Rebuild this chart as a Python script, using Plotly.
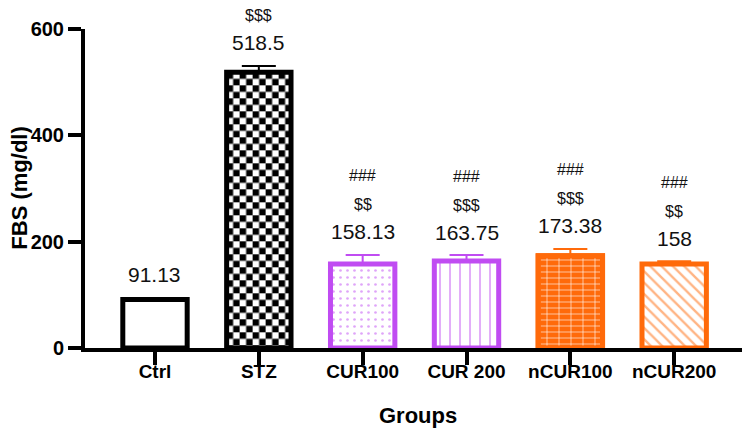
import base64
import plotly.graph_objects as go

groups = ["Ctrl", "STZ", "CUR100", "CUR 200", "nCUR100", "nCUR200"]
means = [91.13, 518.5, 158.13, 163.75, 173.38, 158]
errors = [3, 12, 17, 11, 13, 5]
value_labels = ["91.13", "518.5", "158.13", "163.75", "173.38", "158"]
dollar_marks = ["", "$$$", "$$", "$$$", "$$$", "$$"]
hash_marks = ["", "", "###", "###", "###", "###"]
y_ticks = [0, 200, 400, 600]

BLACK = "#000000"
PURPLE = "#C04CF2"
ORANGE = "#FF6A0A"
line_colors = [BLACK, BLACK, PURPLE, PURPLE, ORANGE, ORANGE]
patterns = [
    dict(shape="", bgcolor="white"),
    None,  # checkerboard drawn as a texture image under the bar
    dict(shape=".", bgcolor="white", fgcolor=PURPLE, size=7, solidity=0.12),
    dict(shape="|", bgcolor="white", fgcolor=PURPLE, size=10, solidity=0.18),
    dict(shape="-", bgcolor=ORANGE, fgcolor="white", size=6, solidity=0.2),
    dict(shape="\\", bgcolor="white", fgcolor=ORANGE, size=8, solidity=0.3),
]

FONT = "Arial, Liberation Sans, sans-serif"
BAR_W = 0.62
W, H = 750, 436
MARGIN = dict(l=77, r=8, t=21, b=96)
X_RANGE = [-0.674, 5.73]
Y_RANGE = [0, 600]

fig = go.Figure()
for i, g in enumerate(groups):
    if patterns[i] is None:
        marker = dict(color="rgba(0,0,0,0)", line=dict(color=line_colors[i], width=5))
    else:
        marker = dict(color="white", line=dict(color=line_colors[i], width=5),
                      pattern=patterns[i])
    fig.add_trace(go.Bar(
        x=[g], y=[means[i]], width=BAR_W, marker=marker,
        error_y=dict(type="data", symmetric=False, array=[errors[i]], arrayminus=[0],
                     color=line_colors[i], thickness=2, width=17),
        showlegend=False, cliponaxis=False,
    ))
    if g == "nCUR100":
        # vertical joints of the brick pattern
        fig.add_trace(go.Bar(
            x=[g], y=[means[i]], width=BAR_W,
            marker=dict(color="rgba(0,0,0,0)", line=dict(color=ORANGE, width=5),
                        pattern=dict(shape="|", bgcolor="rgba(0,0,0,0)", fgcolor="white",
                                     size=12, solidity=0.1)),
            showlegend=False, cliponaxis=False,
        ))

# checkerboard texture for the STZ bar
idx = groups.index("STZ")
px_per_x = (W - MARGIN["l"] - MARGIN["r"]) / (X_RANGE[1] - X_RANGE[0])
px_per_y = (H - MARGIN["t"] - MARGIN["b"]) / (Y_RANGE[1] - Y_RANGE[0])
tw = BAR_W * px_per_x
th = means[idx] * px_per_y
sq = 6.5
svg = (
    f'<svg xmlns="http://www.w3.org/2000/svg" width="{tw:.1f}" height="{th:.1f}" '
    f'viewBox="0 0 {tw:.1f} {th:.1f}" preserveAspectRatio="none">'
    f'<defs><pattern id="c" width="{2*sq}" height="{2*sq}" patternUnits="userSpaceOnUse">'
    f'<rect width="{2*sq}" height="{2*sq}" fill="white"/>'
    f'<rect width="{sq}" height="{sq}" fill="black"/>'
    f'<rect x="{sq}" y="{sq}" width="{sq}" height="{sq}" fill="black"/>'
    f'</pattern></defs><rect width="100%" height="100%" fill="url(#c)"/></svg>'
)
src = "data:image/svg+xml;base64," + base64.b64encode(svg.encode()).decode()
fig.add_layout_image(source=src, xref="x", yref="y", x=idx - BAR_W / 2, y=means[idx],
                     sizex=BAR_W, sizey=means[idx], xanchor="left", yanchor="top",
                     sizing="stretch", layer="below")

for i, g in enumerate(groups):
    top = means[i] + errors[i]
    fig.add_annotation(x=g, y=top, text=value_labels[i], showarrow=False,
                       yshift=23, yanchor="middle",
                       font=dict(family=FONT, size=21, color="#111"))
    if dollar_marks[i]:
        fig.add_annotation(x=g, y=top, text=dollar_marks[i], showarrow=False,
                           yshift=50, yanchor="middle",
                           font=dict(family=FONT, size=16, color="#111"))
    if hash_marks[i]:
        fig.add_annotation(x=g, y=top, text=hash_marks[i], showarrow=False,
                           yshift=79, yanchor="middle",
                           font=dict(family=FONT, size=16, color="#111"))

fig.add_annotation(xref="paper", yref="paper", x=0.5, y=-0.213, text="<b>Groups</b>",
                   showarrow=False, yanchor="middle", xanchor="center",
                   font=dict(family=FONT, size=22, color="black"))
fig.add_annotation(xref="paper", yref="paper", x=-0.099, y=0.5, text="<b>FBS (mg/dl)</b>",
                   showarrow=False, yanchor="middle", xanchor="center", textangle=-90,
                   font=dict(family=FONT, size=22, color="black"))

fig.update_layout(
    width=W, height=H,
    margin=MARGIN,
    plot_bgcolor="white", paper_bgcolor="white",
    barmode="overlay",
    font=dict(family=FONT, color="black"),
    xaxis=dict(
        range=X_RANGE, showline=True, linecolor="black", linewidth=4,
        ticks="outside", ticklen=13, tickwidth=4, tickcolor="black",
        tickfont=dict(family=FONT, size=19, color="black", weight="bold"),
        ticklabelstandoff=-10,
        showgrid=False, zeroline=False, automargin=False,
    ),
    yaxis=dict(
        range=Y_RANGE, tickvals=y_ticks, showline=True, linecolor="black", linewidth=4,
        ticks="outside", ticklen=13, tickwidth=4, tickcolor="black",
        tickfont=dict(family=FONT, size=20, color="black", weight="bold"),
        showgrid=False, zeroline=False, automargin=False,
    ),
)

fig.write_html("out.html")
